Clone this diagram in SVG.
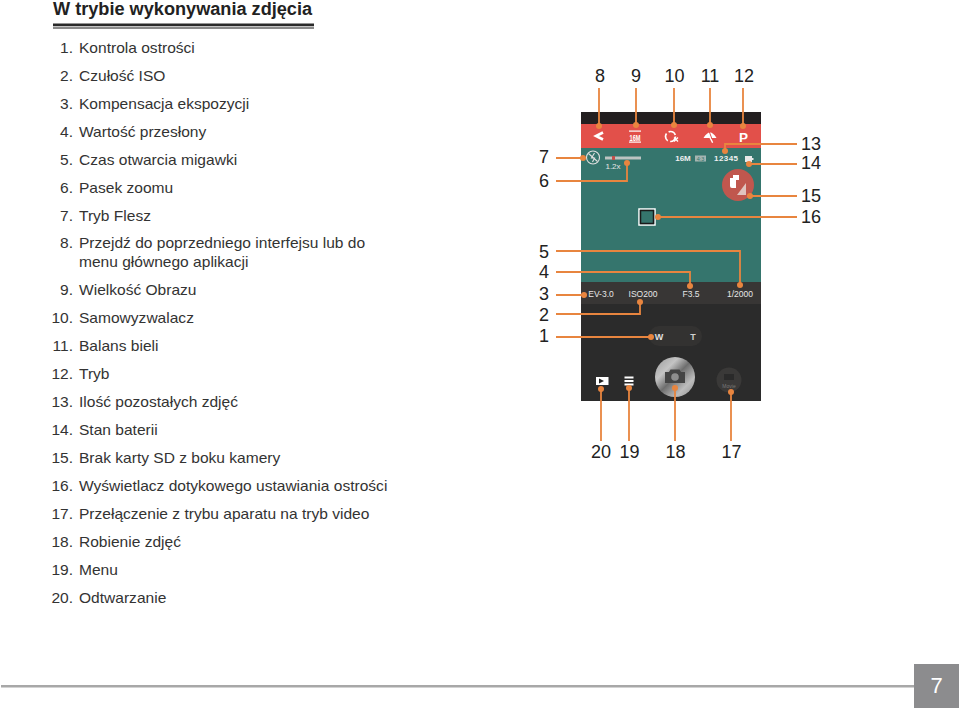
<svg xmlns="http://www.w3.org/2000/svg" width="960" height="708" viewBox="0 0 960 708">
<defs>
<linearGradient id="sheen" x1="0" y1="0" x2="1" y2="1"><stop offset="0" stop-color="#9a9a9a"/><stop offset="0.3" stop-color="#c4c4c4"/><stop offset="0.5" stop-color="#6e6e6e"/><stop offset="0.75" stop-color="#bdbdbd"/><stop offset="1" stop-color="#8a8a8a"/></linearGradient>
</defs>
<style>
text{font-family:"Liberation Sans",Arial,sans-serif}
.h{font-size:18.150px;font-weight:bold;fill:#222}
.l{font-size:15.550px;fill:#333}
.n{text-anchor:end}
.c{font-size:18px;fill:#222;text-anchor:middle}
.s{font-size:8.500px;fill:#e6e6e6;text-anchor:middle}
.ln{fill:none;stroke:#e8853f;stroke-width:1.800}
.d{fill:#e8853f}
</style>
<rect width="960" height="708" fill="#fff"/>
<g id="heading">
<text class="h" x="53" y="15">W trybie wykonywania zdjęcia</text>
<rect x="53" y="23.500" width="261" height="2.500" fill="#2a2a2a"/>
<rect x="53" y="26.500" width="261" height="2.500" fill="#8a8a8a"/>
</g>
<g id="legend">
<text class="l n" x="73" y="53">1.</text><text class="l" x="79" y="53">Kontrola ostrości</text>
<text class="l n" x="73" y="81">2.</text><text class="l" x="79" y="81">Czułość ISO</text>
<text class="l n" x="73" y="109">3.</text><text class="l" x="79" y="109">Kompensacja ekspozycji</text>
<text class="l n" x="73" y="137">4.</text><text class="l" x="79" y="137">Wartość przesłony</text>
<text class="l n" x="73" y="165">5.</text><text class="l" x="79" y="165">Czas otwarcia migawki</text>
<text class="l n" x="73" y="193">6.</text><text class="l" x="79" y="193">Pasek zoomu</text>
<text class="l n" x="73" y="221">7.</text><text class="l" x="79" y="221">Tryb Flesz</text>
<text class="l n" x="73" y="248">8.</text><text class="l" x="79" y="248">Przejdź do poprzedniego interfejsu lub do</text>
<text class="l" x="79" y="267">menu głównego aplikacji</text>
<text class="l n" x="73" y="295">9.</text><text class="l" x="79" y="295">Wielkość Obrazu</text>
<text class="l n" x="73" y="323">10.</text><text class="l" x="79" y="323">Samowyzwalacz</text>
<text class="l n" x="73" y="351">11.</text><text class="l" x="79" y="351">Balans bieli</text>
<text class="l n" x="73" y="379">12.</text><text class="l" x="79" y="379">Tryb</text>
<text class="l n" x="73" y="407">13.</text><text class="l" x="79" y="407">Ilość pozostałych zdjęć</text>
<text class="l n" x="73" y="435">14.</text><text class="l" x="79" y="435">Stan baterii</text>
<text class="l n" x="73" y="463">15.</text><text class="l" x="79" y="463">Brak karty SD z boku kamery</text>
<text class="l n" x="73" y="491">16.</text><text class="l" x="79" y="491">Wyświetlacz dotykowego ustawiania ostrości</text>
<text class="l n" x="73" y="519">17.</text><text class="l" x="79" y="519">Przełączenie z trybu aparatu na tryb video</text>
<text class="l n" x="73" y="547">18.</text><text class="l" x="79" y="547">Robienie zdjęć</text>
<text class="l n" x="73" y="575">19.</text><text class="l" x="79" y="575">Menu</text>
<text class="l n" x="73" y="603">20.</text><text class="l" x="79" y="603">Odtwarzanie</text>
</g>
<g id="phone">
<rect x="581" y="112" width="180" height="289" fill="#2b2b2b"/>
<rect x="581" y="112" width="180" height="12" fill="#231f20"/>
<rect x="581" y="124" width="180" height="24" fill="#e2504a"/>
<rect x="581" y="148" width="180" height="134" fill="#35756d"/>
<rect x="581" y="282" width="180" height="22" fill="#383635"/>
<path d="M603 132.500l-7 3.500 7 3.500" fill="none" stroke="#fff" stroke-width="2.600"/>
<g fill="#fff">
<rect x="629" y="130.500" width="12" height="1.200"/><rect x="629" y="141.500" width="12" height="1.200"/>
<text x="635" y="140.500" font-size="9.500" font-weight="bold" text-anchor="middle" fill="#fff" textLength="11" lengthAdjust="spacingAndGlyphs">16M</text>
<path d="M703.500 138Q710 127 716.500 138Z"/>
<path d="M709.500 138l2.500 5 1.200-.5-2-4.500z"/>
<text x="743.500" y="142" font-size="13.500" font-weight="bold" text-anchor="middle" fill="#fff">P</text>
</g>
<path d="M709 131l3 8" stroke="#e2504a" stroke-width="1"/>
<circle cx="670.500" cy="136.500" r="5" fill="none" stroke="#fff" stroke-width="1.700" stroke-dasharray="8 2.500"/>
<path d="M674 137.500l4 4m0-4l-4 4" stroke="#fff" stroke-width="1.300"/>
<circle cx="593" cy="157.500" r="6.500" fill="none" stroke="#e0e0e0" stroke-width="1.100"/>
<path d="M594.500 153l-3 5h3l-2 4M588.500 153.500l9 8" fill="none" stroke="#e0e0e0" stroke-width="1.100"/>
<rect x="605" y="156.500" width="36" height="3" fill="#bcc4c2"/>
<rect x="612" y="156" width="3" height="4" fill="#c0504a"/>
<text x="613" y="169" font-size="8" fill="#e6e6e6" text-anchor="middle">1.2x</text>
<text x="683" y="161" font-size="8" font-weight="bold" fill="#f0f0f0" text-anchor="middle">16M</text>
<rect x="695" y="155.500" width="11" height="6" fill="#a5b5b2"/>
<text x="700.500" y="160.600" font-size="5.500" fill="#35756d" text-anchor="middle">4:3</text>
<text x="726" y="161" font-size="8" font-weight="bold" fill="#f0f0f0" text-anchor="middle" textLength="24">12345</text>
<rect x="745" y="156" width="7" height="6" fill="#e8e8e8"/><rect x="752" y="158" width="1.500" height="2" fill="#e8e8e8"/>
<circle cx="738" cy="185" r="16" fill="#c0574e"/>
<path d="M730 178h3v-3h6v5h-3v8h-4a2 2 0 0 1-2-2z" fill="#fff"/>
<path d="M737 195l9-12v12z" fill="#e0c4bf"/>
<rect x="639" y="209" width="16" height="16" fill="none" stroke="#fff" stroke-width="1.500"/>
<rect x="640.500" y="210.500" width="13" height="13" fill="none" stroke="#1a1a1a" stroke-width="1.500"/>
<text class="s" x="601" y="297">EV-3.0</text>
<text class="s" x="643" y="297">ISO200</text>
<text class="s" x="691" y="297">F3.5</text>
<text class="s" x="740" y="297">1/2000</text>
<rect x="649" y="326" width="53" height="20" rx="10" fill="#333231"/>
<text x="659" y="340" font-size="9" font-weight="bold" fill="#e0e0e0" text-anchor="middle">W</text>
<text x="693" y="340" font-size="9" font-weight="bold" fill="#d0d0d0" text-anchor="middle">T</text>
<circle cx="675" cy="377" r="20" fill="url(#sheen)"/>
<path d="M665 372h4l1.500-2.500h9l1.500 2.500h4v11h-20z" fill="#444"/>
<circle cx="675" cy="377" r="3.800" fill="#8e8e8e"/>
<rect x="596" y="377" width="12.500" height="8" fill="#fff"/>
<path d="M599 378.500l5 2.500-5 2.500z" fill="#222"/>
<g fill="#fff"><rect x="624.500" y="376.500" width="9" height="2"/><rect x="624.500" y="380" width="9" height="2"/><rect x="624.500" y="383.500" width="9" height="2"/></g>
<circle cx="729" cy="380" r="12.500" fill="#3a3938"/>
<rect x="724" y="374" width="10" height="6" fill="#2a2a2a"/>
<text x="729" y="388" font-size="5" fill="#777" text-anchor="middle">Movie</text>
</g>
<g id="connectors">
<path class="ln" d="M599 88V126M636 88V125M674 88V125M710 88V125M743 88V126"/>
<path class="ln" d="M797 144H725V151M797 164H749M797 196H750M797 217H658"/>
<path class="ln" d="M556 158H583M556 181H627V163M556 251H740V285M556 272H690V286M556 295H584M556 314H640V302M556 337H651"/>
<path class="ln" d="M601 389V441M629 388V441M675 388V441M731 392V441"/>
<g class="d">
<circle cx="599" cy="126" r="3"/><circle cx="636" cy="125" r="3"/><circle cx="674" cy="125" r="3"/><circle cx="710" cy="125" r="3"/><circle cx="743" cy="126" r="3"/>
<circle cx="725" cy="151" r="3"/><circle cx="749" cy="164" r="3"/><circle cx="750" cy="196" r="3"/><circle cx="658" cy="217" r="3"/>
<circle cx="583" cy="158" r="3"/><circle cx="627" cy="163" r="3"/><circle cx="740" cy="285" r="3"/><circle cx="690" cy="286" r="3"/><circle cx="584" cy="295" r="3"/><circle cx="640" cy="302" r="3"/><circle cx="651" cy="337" r="3"/>
<circle cx="601" cy="389" r="3"/><circle cx="629" cy="388" r="3"/><circle cx="675" cy="388" r="3"/><circle cx="731" cy="392" r="3"/>
</g>
</g>
<g id="callouts">
<text class="c" x="600" y="82">8</text><text class="c" x="636" y="82">9</text><text class="c" x="674.500" y="82">10</text><text class="c" x="710" y="82">11</text><text class="c" x="744" y="82">12</text>
<text class="c" x="811" y="150">13</text><text class="c" x="811" y="169">14</text><text class="c" x="811" y="202">15</text><text class="c" x="811" y="223">16</text>
<text class="c" x="544" y="163">7</text><text class="c" x="544" y="187">6</text><text class="c" x="544" y="258">5</text><text class="c" x="544" y="278">4</text><text class="c" x="544" y="300">3</text><text class="c" x="544" y="321">2</text><text class="c" x="544" y="342">1</text>
<text class="c" x="601" y="458">20</text><text class="c" x="629.500" y="458">19</text><text class="c" x="675.500" y="458">18</text><text class="c" x="731.500" y="458">17</text>
</g>
<g id="footer">
<rect x="1" y="685" width="914" height="2.500" fill="#a8a8a8"/>
<rect x="914" y="664" width="45" height="44" fill="#8c8c8e"/>
<text x="936.500" y="693" font-size="22" fill="#fff" text-anchor="middle">7</text>
</g>
</svg>
